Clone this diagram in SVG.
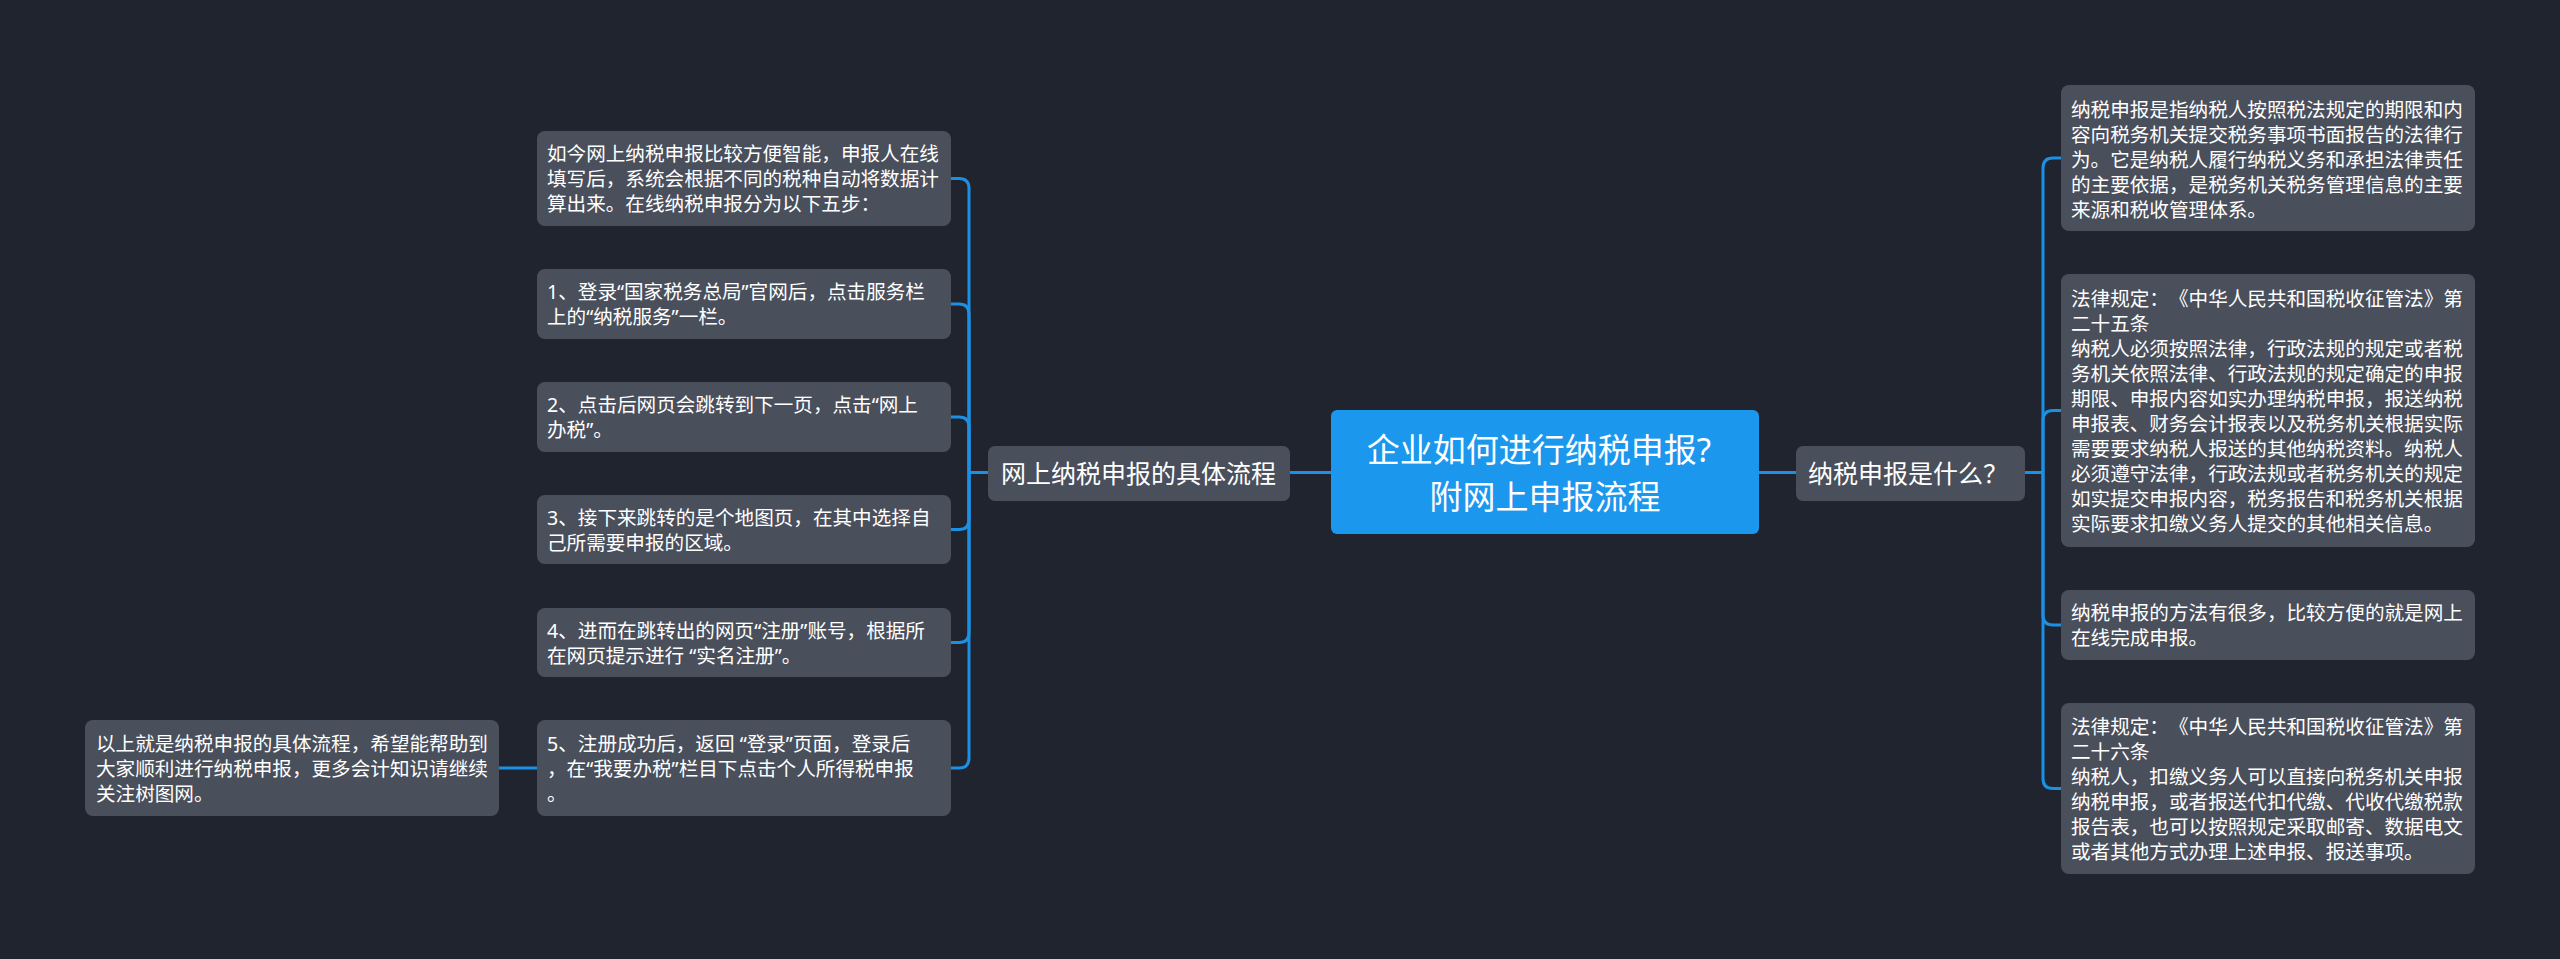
<svg xmlns="http://www.w3.org/2000/svg" width="2560" height="959" viewBox="0 0 2560 959">
<style>
.bg{fill:#20242e}
.n{fill:#4a4f5c}
.root{fill:#1b97ee}
.t{font-family:"Noto Sans","Noto Sans CJK SC",sans-serif;fill:#ffffff;dominant-baseline:central;text-spacing-trim:space-all}
.s{font-size:19.6px}
.m{font-size:25px}
.r{font-size:33px;text-anchor:middle}
.c{fill:none;stroke:#1c90e4;stroke-width:3}
</style>
<rect class="bg" x="0" y="0" width="2560" height="959"/>
<g id="connectors">
<path class="c" d="M1331,472.5 H1290"/>
<path class="c" d="M988,472.5 H969"/>
<path class="c" d="M969,472.5 V188.5 Q969,178.5 959,178.5 H951"/>
<path class="c" d="M969,472.5 V314 Q969,304 959,304 H951"/>
<path class="c" d="M969,472.5 V427 Q969,417 959,417 H951"/>
<path class="c" d="M969,472.5 V519.5 Q969,529.5 959,529.5 H951"/>
<path class="c" d="M969,472.5 V632.5 Q969,642.5 959,642.5 H951"/>
<path class="c" d="M969,472.5 V758 Q969,768 959,768 H951"/>
<path class="c" d="M537,768 H499"/>
<path class="c" d="M1759,472.5 H1796"/>
<path class="c" d="M2025,472.5 H2043"/>
<path class="c" d="M2043,472.5 V168 Q2043,158 2053,158 H2061"/>
<path class="c" d="M2043,472.5 V420.5 Q2043,410.5 2053,410.5 H2061"/>
<path class="c" d="M2043,472.5 V615 Q2043,625 2053,625 H2061"/>
<path class="c" d="M2043,472.5 V778.5 Q2043,788.5 2053,788.5 H2061"/>
</g>
<g id="root">
<rect class="root" x="1331" y="410" width="428" height="124" rx="6"/>
<text class="t r" x="1539" y="449">企业如何进行纳税申报?</text>
<text class="t r" x="1545" y="496">附网上申报流程</text>
</g>
<g id="left-main">
<rect class="n" x="988" y="446" width="302" height="55" rx="7"/>
<text class="t m" x="1001" y="473">网上纳税申报的具体流程</text>
</g>
<g id="left-1">
<rect class="n" x="537" y="131" width="414" height="95" rx="8"/>
<text class="t s" x="547" y="153.5">如今网上纳税申报比较方便智能，申报人在线</text>
<text class="t s" x="547" y="178.5">填写后，系统会根据不同的税种自动将数据计</text>
<text class="t s" x="547" y="203.5">算出来。在线纳税申报分为以下五步：</text>
</g>
<g id="left-2">
<rect class="n" x="537" y="269" width="414" height="70" rx="8"/>
<text class="t s" x="547" y="291.5">1、登录“国家税务总局”官网后，点击服务栏</text>
<text class="t s" x="547" y="316.5">上的“纳税服务”一栏。</text>
</g>
<g id="left-3">
<rect class="n" x="537" y="382" width="414" height="70" rx="8"/>
<text class="t s" x="547" y="404.5">2、点击后网页会跳转到下一页，点击“网上</text>
<text class="t s" x="547" y="429.5">办税”。</text>
</g>
<g id="left-4">
<rect class="n" x="537" y="495" width="414" height="69" rx="8"/>
<text class="t s" x="547" y="517">3、接下来跳转的是个地图页，在其中选择自</text>
<text class="t s" x="547" y="542">己所需要申报的区域。</text>
</g>
<g id="left-5">
<rect class="n" x="537" y="608" width="414" height="69" rx="8"/>
<text class="t s" x="547" y="630">4、进而在跳转出的网页“注册”账号，根据所</text>
<text class="t s" x="547" y="655">在网页提示进行 “实名注册”。</text>
</g>
<g id="left-6">
<rect class="n" x="537" y="720" width="414" height="96" rx="8"/>
<text class="t s" x="547" y="743">5、注册成功后，返回 “登录”页面，登录后</text>
<text class="t s" x="547" y="768">，在“我要办税”栏目下点击个人所得税申报</text>
<text class="t s" x="547" y="793">。</text>
</g>
<g id="far-left">
<rect class="n" x="85" y="720" width="414" height="96" rx="8"/>
<text class="t s" x="96" y="743">以上就是纳税申报的具体流程，希望能帮助到</text>
<text class="t s" x="96" y="768">大家顺利进行纳税申报，更多会计知识请继续</text>
<text class="t s" x="96" y="793">关注树图网。</text>
</g>
<g id="right-main">
<rect class="n" x="1796" y="446" width="229" height="55" rx="7"/>
<text class="t m" x="1808" y="473">纳税申报是什么？</text>
</g>
<g id="right-1">
<rect class="n" x="2061" y="85" width="414" height="146" rx="8"/>
<text class="t s" x="2071" y="109">纳税申报是指纳税人按照税法规定的期限和内</text>
<text class="t s" x="2071" y="134">容向税务机关提交税务事项书面报告的法律行</text>
<text class="t s" x="2071" y="159">为。它是纳税人履行纳税义务和承担法律责任</text>
<text class="t s" x="2071" y="184">的主要依据，是税务机关税务管理信息的主要</text>
<text class="t s" x="2071" y="209">来源和税收管理体系。</text>
</g>
<g id="right-2">
<rect class="n" x="2061" y="274" width="414" height="273" rx="8"/>
<text class="t s" x="2071" y="298">法律规定：《中华人民共和国税收征管法》第</text>
<text class="t s" x="2071" y="323">二十五条</text>
<text class="t s" x="2071" y="348">纳税人必须按照法律，行政法规的规定或者税</text>
<text class="t s" x="2071" y="373">务机关依照法律、行政法规的规定确定的申报</text>
<text class="t s" x="2071" y="398">期限、申报内容如实办理纳税申报，报送纳税</text>
<text class="t s" x="2071" y="423">申报表、财务会计报表以及税务机关根据实际</text>
<text class="t s" x="2071" y="448">需要要求纳税人报送的其他纳税资料。纳税人</text>
<text class="t s" x="2071" y="473">必须遵守法律，行政法规或者税务机关的规定</text>
<text class="t s" x="2071" y="498">如实提交申报内容，税务报告和税务机关根据</text>
<text class="t s" x="2071" y="523">实际要求扣缴义务人提交的其他相关信息。</text>
</g>
<g id="right-3">
<rect class="n" x="2061" y="590" width="414" height="70" rx="8"/>
<text class="t s" x="2071" y="612.5">纳税申报的方法有很多，比较方便的就是网上</text>
<text class="t s" x="2071" y="637.5">在线完成申报。</text>
</g>
<g id="right-4">
<rect class="n" x="2061" y="703" width="414" height="171" rx="8"/>
<text class="t s" x="2071" y="726">法律规定：《中华人民共和国税收征管法》第</text>
<text class="t s" x="2071" y="751">二十六条</text>
<text class="t s" x="2071" y="776">纳税人，扣缴义务人可以直接向税务机关申报</text>
<text class="t s" x="2071" y="801">纳税申报，或者报送代扣代缴、代收代缴税款</text>
<text class="t s" x="2071" y="826">报告表，也可以按照规定采取邮寄、数据电文</text>
<text class="t s" x="2071" y="851">或者其他方式办理上述申报、报送事项。</text>
</g>
</svg>
